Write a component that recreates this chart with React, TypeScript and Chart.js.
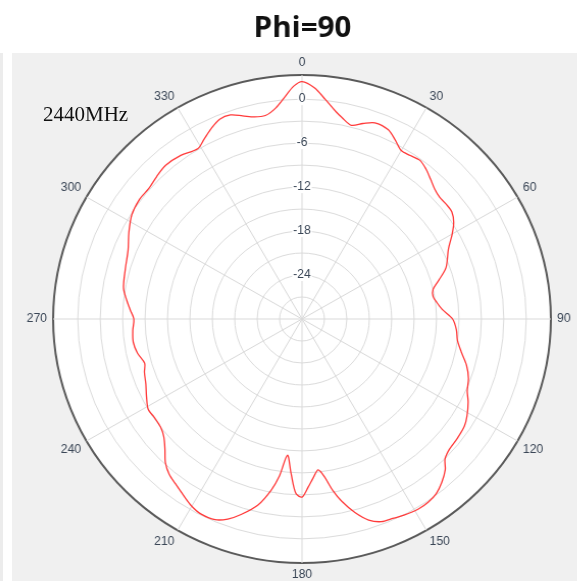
import React, { useEffect, useRef } from 'react';
import { Chart, registerables } from 'chart.js';

Chart.register(...registerables);

const TITLE = 'Phi=90';
const FREQ_LABEL = '2440MHz';
const RING_LABELS = [0, -6, -12, -18, -24];
const ANGLE_LABEL_STEP = 30;
const R_MIN = -30;
const R_MAX = 3.3;
const R_STEP = 3;

// theta (deg, clockwise from top) and gain (dB)
const ANGLES = [
  0, 3, 6, 9, 11, 14, 17, 20, 24, 27,
  30, 33, 36, 39, 42, 45, 48, 51, 54, 57,
  60, 64, 70, 74, 77, 80, 83, 86, 90, 94,
  98, 102, 106, 110, 114, 117, 121, 124, 128, 132,
  135, 137, 140, 143, 146, 149, 153, 156, 159, 162,
  165, 168, 170, 172, 174, 176, 178, 180, 182, 184,
  186, 188, 190, 193, 197, 200, 203, 207, 210, 213,
  217, 220, 223, 226, 229, 232, 236, 239, 243, 247,
  251, 254, 258, 262, 266, 270, 273, 276, 280, 286,
  292, 297, 302, 307, 311, 315, 319, 324, 329, 332,
  335, 338, 341, 344, 347, 350, 353, 356, 358,
];
const GAIN_DB = [
  2.4, 1.6, 0.1, -1.3, -2.0, -2.75, -2.1, -1.5, -1.7, -2.55,
  -3.45, -3.4, -3.2, -3.65, -4.3, -4.9, -5.2, -5.15, -5.2, -5.8,
  -6.8, -8.2, -9.5, -11.0, -12.0, -12.2, -11.8, -11.2, -9.85, -9.3,
  -9.0, -8.2, -7.1, -6.3, -5.8, -5.05, -4.25, -3.8, -3.6, -3.45,
  -2.95, -1.9, -0.9, -0.15, 0.18, 0.25, 0.05, -0.2, -0.37, -1.15,
  -2.65, -4.6, -6.2, -8.2, -9.3, -8.3, -7.0, -5.7, -6.2, -8.9,
  -11.3, -8.4, -6.3, -4.0, -2.1, -0.95, -0.25, -0.15, -0.5, -1.1,
  -1.85, -2.35, -3.2, -4.5, -5.5, -6.0, -6.1, -6.0, -6.65, -7.3,
  -7.7, -8.1, -7.5, -7.2, -7.3, -7.5, -7.0, -6.45, -5.75, -5.4,
  -4.9, -4.0, -3.15, -2.8, -2.85, -2.5, -2.2, -2.4, -2.9, -2.15,
  -1.3, -0.6, -0.55, -1.15, -1.7, -1.8, -1.0, 0.6, 1.8,
];

const LABEL_FONT = 'Liberation Sans';
const LABEL_COLOR = '#3a4656';

export default function App() {
  const ref = useRef<HTMLCanvasElement>(null);

  useEffect(() => {
    const labels = Array.from({ length: 360 }, (_, i) => String(i));
    const data: (number | null)[] = labels.map(() => null);
    ANGLES.forEach((a, i) => {
      data[a] = GAIN_DB[i];
    });

    const chart = new Chart(ref.current as HTMLCanvasElement, {
      type: 'radar',
      data: {
        labels,
        datasets: [
          {
            data,
            borderColor: '#ff3a3a',
            borderWidth: 1.3,
            pointRadius: 0,
            pointHoverRadius: 0,
            pointHitRadius: 0,
            fill: false,
            spanGaps: true,
            tension: 0.3,
          },
        ],
      },
      options: {
        responsive: false,
        animation: false,
        layout: { padding: 0 },
        plugins: {
          legend: { display: false },
          tooltip: { enabled: false },
          title: {
            display: true,
            text: TITLE,
            color: '#111',
            font: { family: 'Open Sans', size: 29, weight: 'bold', lineHeight: 1.2 },
            padding: { top: 11, bottom: 11.2 },
          },
        },
        scales: {
          r: {
            min: R_MIN,
            max: R_MAX,
            startAngle: 0,
            backgroundColor: '#ffffff',
            grid: {
              circular: true,
              color: (c: any) => (c.tick && c.tick.value > 3 ? '#5a5a5a' : '#dcdcdc'),
              lineWidth: (c: any) => (c.tick && c.tick.value > 3 ? 2 : 1),
            },
            angleLines: {
              display: true,
              color: '#d9d9d9',
              lineWidth: (c: any) => (c.index % ANGLE_LABEL_STEP === 0 ? 1 : 0),
            },
            pointLabels: {
              display: true,
              padding: 0,
              color: LABEL_COLOR,
              font: { family: LABEL_FONT, size: 12, lineHeight: 1 },
              callback: (label: string, i: number) => (i % ANGLE_LABEL_STEP === 0 ? label : ''),
            },
            ticks: {
              stepSize: R_STEP,
              color: LABEL_COLOR,
              font: { family: LABEL_FONT, size: 12 },
              showLabelBackdrop: (c: any) => !!(c.tick && c.tick.label),
              backdropColor: '#ffffff',
              backdropPadding: { top: 0, bottom: 0, left: 1, right: 1 },
              callback: (v: any) => (RING_LABELS.includes(Number(v)) ? String(v) : ''),
            },
          },
        },
      },
    } as any);
    return () => chart.destroy();
  }, []);

  return (
    <div
      style={{
        position: 'absolute',
        left: 0,
        top: 0,
        width: 577,
        height: 581,
        overflow: 'hidden',
        background: '#ffffff',
      }}
    >
      <div style={{ position: 'absolute', left: 0, top: 53, width: 3, height: 528, background: '#ececec' }} />
      <div style={{ position: 'absolute', left: 12, top: 53, width: 565, height: 528, background: '#f0f0f0' }} />
      <canvas
        ref={ref}
        width={601}
        height={581}
        style={{
          position: 'absolute',
          left: 2,
          top: 0,
          width: 601,
          height: 581,
          transform: 'scaleX(1.02)',
          transformOrigin: '300px 0px',
        }}
      />
      <div
        style={{
          position: 'absolute',
          left: 43,
          top: 104,
          fontFamily: '"Liberation Serif", serif',
          fontSize: 21,
          lineHeight: '21px',
          color: '#111',
          whiteSpace: 'nowrap',
        }}
      >
        {FREQ_LABEL}
      </div>
    </div>
  );
}
